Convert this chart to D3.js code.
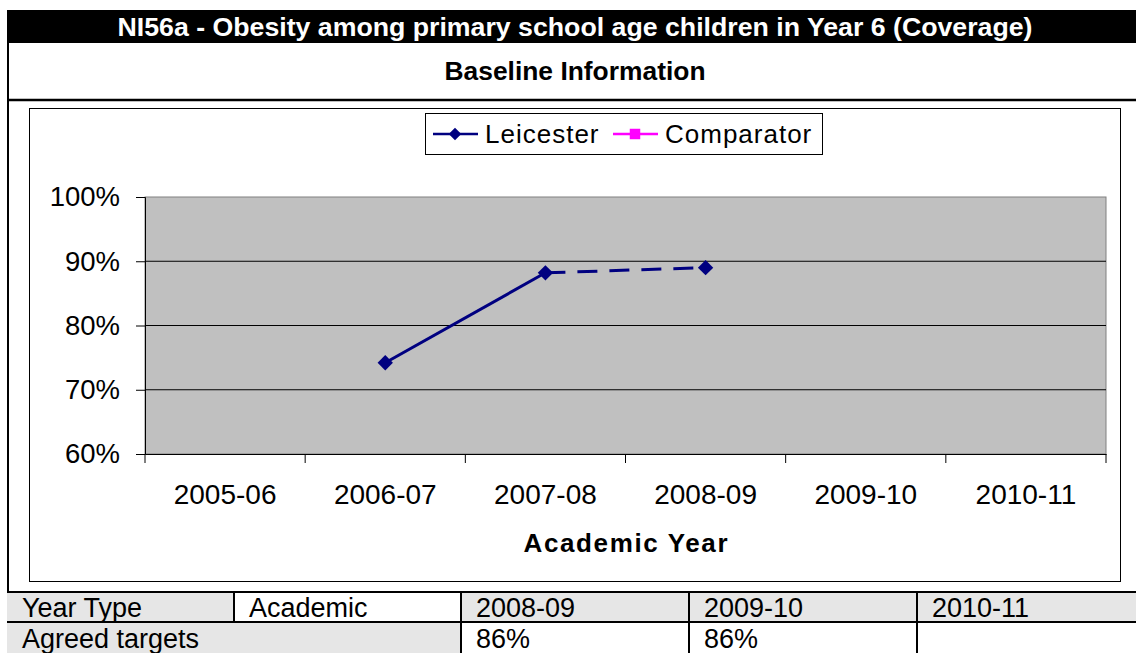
<!DOCTYPE html>
<html>
<head>
<meta charset="utf-8">
<script src="https://cdn.jsdelivr.net/npm/d3@7"></script>
<style>
  body { margin: 0; background: #fff; overflow: hidden; }
  svg { display: block; font-family: "Liberation Sans", Arial, sans-serif; }
</style>
</head>
<body>
<div id="container"></div>
<script>
/* DATA */
const years = ["2005-06", "2006-07", "2007-08", "2008-09", "2009-10", "2010-11"]
const leicester = [null, 0.742, 0.882, 0.890, null, null]
const comparator = [null, null, null, null, null, null]
// segment ending at this index is drawn dashed (provisional value)
const dashedTo = [false, false, false, true, false, false]
const yTicks = [0.6, 0.7, 0.8, 0.9, 1.0]
const tableRow1 = ["Year Type", "Academic", "2008-09", "2009-10", "2010-11"]
const tableRow2 = ["Agreed targets", "86%", "86%", ""]

/* CONSTANTS */
const width = 1136, height = 653
const plot = { left: 145, right: 1106, top: 197, bottom: 454 }
const navy = "#000080", magenta = "#ff00ff"

const svg = d3.select("#container").append("svg")
  .attr("width", width).attr("height", height)

// header bar
svg.append("rect").attr("x", 7).attr("y", 10).attr("width", width).attr("height", 33).attr("fill", "#000")
svg.append("text").attr("x", 575).attr("y", 36).attr("text-anchor", "middle")
  .attr("fill", "#fff").attr("font-weight", "bold").attr("font-size", 26.5)
  .attr("textLength", 915).attr("lengthAdjust", "spacingAndGlyphs")
  .text("NI56a - Obesity among primary school age children in Year 6 (Coverage)")
svg.append("text").attr("x", 575).attr("y", 80).attr("text-anchor", "middle")
  .attr("font-weight", "bold").attr("font-size", 26)
  .attr("textLength", 261).attr("lengthAdjust", "spacingAndGlyphs")
  .text("Baseline Information")

// outer lines
svg.append("line").attr("x1", 8).attr("x2", 8).attr("y1", 10).attr("y2", height)
  .attr("stroke", "#000").attr("stroke-width", 2)
svg.append("line").attr("x1", 7).attr("x2", width).attr("y1", 100).attr("y2", 100)
  .attr("stroke", "#000").attr("stroke-width", 2.5)

// chart frame
svg.append("rect").attr("x", 29.5).attr("y", 108.5).attr("width", 1091).attr("height", 473)
  .attr("fill", "#fff").attr("stroke", "#000").attr("stroke-width", 1)

/* SCALES */
const xScale = d3.scaleBand().domain(years).range([plot.left, plot.right])
const yScale = d3.scaleLinear().domain([0.6, 1.0]).range([plot.bottom, plot.top])

// plot area
svg.append("rect").attr("x", plot.left).attr("y", plot.top)
  .attr("width", plot.right - plot.left).attr("height", plot.bottom - plot.top)
  .attr("fill", "#c0c0c0").attr("stroke", "#808080")

// gridlines
svg.append("g").selectAll("line")
  .data(yTicks.slice(1, -1))
  .join("line")
  .attr("x1", plot.left).attr("x2", plot.right)
  .attr("y1", d => yScale(d)).attr("y2", d => yScale(d))
  .attr("stroke", "#000").attr("stroke-width", 1)

// y axis
const yAxis = d3.axisLeft(yScale).tickValues(yTicks).tickSize(9).tickPadding(16)
  .tickFormat(d3.format(".0%"))
const yg = svg.append("g").attr("transform", `translate(${plot.left},0)`).call(yAxis)
yg.selectAll("text").attr("font-size", 27.5).attr("font-family", "Liberation Sans, Arial").attr("fill", "#000")
yg.selectAll("line").attr("stroke", "#000")
yg.select(".domain").attr("stroke", "#000")

// x axis: labels centered, ticks at category boundaries
const xAxis = d3.axisBottom(xScale).tickSize(0).tickPadding(30)
const xg = svg.append("g").attr("transform", `translate(0,${plot.bottom})`).call(xAxis)
xg.selectAll("text").attr("font-size", 28).attr("font-family", "Liberation Sans, Arial").attr("fill", "#000")
xg.select(".domain").attr("stroke", "#000")
xg.selectAll(".edge").data(years.concat([null]))
  .join("line").attr("class", "edge")
  .attr("x1", d => d ? xScale(d) : plot.right).attr("x2", d => d ? xScale(d) : plot.right)
  .attr("y1", 0).attr("y2", 9).attr("stroke", "#000")

svg.append("text").attr("x", (plot.left + plot.right) / 2).attr("y", 552)
  .attr("text-anchor", "middle").attr("font-weight", "bold").attr("font-size", 26)
  .attr("textLength", 204).attr("lengthAdjust", "spacing")
  .text("Academic Year")

/* SERIES */
const pts = years.map((d, i) => ({ year: d, v: leicester[i], dashed: dashedTo[i] }))
  .filter(d => d.v != null)
const segs = d3.pairs(pts)
svg.append("g").selectAll("line")
  .data(segs)
  .join("line")
  .attr("x1", d => xScale(d[0].year) + xScale.bandwidth() / 2)
  .attr("y1", d => yScale(d[0].v))
  .attr("x2", d => xScale(d[1].year) + xScale.bandwidth() / 2)
  .attr("y2", d => yScale(d[1].v))
  .attr("stroke", navy).attr("stroke-width", 3)
  .attr("stroke-dasharray", d => d[1].dashed ? "20,12" : null)

const diamond = d3.symbol().type(d3.symbolDiamond2).size(150)
svg.append("g").selectAll("path")
  .data(pts)
  .join("path")
  .attr("d", diamond)
  .attr("transform", d => `translate(${xScale(d.year) + xScale.bandwidth() / 2},${yScale(d.v)})`)
  .attr("fill", navy)

/* LEGEND */
const lg = svg.append("g")
lg.append("rect").attr("x", 425.5).attr("y", 113.5).attr("width", 397).attr("height", 41)
  .attr("fill", "#fff").attr("stroke", "#000")
const legendItems = [
  { name: "Leicester", color: navy, sym: d3.symbolDiamond2, size: 100, x: 433 },
  { name: "Comparator", color: magenta, sym: d3.symbolSquare, size: 110, x: 613 }
]
const li = lg.selectAll("g").data(legendItems).join("g")
  .attr("transform", d => `translate(${d.x},134)`)
li.append("line").attr("x1", 0).attr("x2", 45).attr("stroke", d => d.color).attr("stroke-width", 2.5)
li.append("path").attr("d", d => d3.symbol().type(d.sym).size(d.size)())
  .attr("transform", "translate(22,0)").attr("fill", d => d.color)
li.append("text").attr("x", 52).attr("y", 9).attr("font-size", 26).attr("letter-spacing", 1)
  .text(d => d.name)

/* TABLE */
const cols = [7, 234, 461, 689, 917, width + 5]
const tb = svg.append("g")
const row1Fill = ["#e6e6e6", "#fff", "#e6e6e6", "#e6e6e6", "#e6e6e6"]
tb.selectAll(".r1").data(tableRow1).join("rect").attr("class", "r1")
  .attr("x", (d, i) => cols[i]).attr("y", 592).attr("width", (d, i) => cols[i + 1] - cols[i]).attr("height", 30)
  .attr("fill", (d, i) => row1Fill[i])
const r2cols = [cols[0], cols[2], cols[3], cols[4], cols[5]]
const row2Fill = ["#e6e6e6", "#fff", "#fff", "#fff"]
tb.selectAll(".r2").data(tableRow2).join("rect").attr("class", "r2")
  .attr("x", (d, i) => r2cols[i]).attr("y", 622).attr("width", (d, i) => r2cols[i + 1] - r2cols[i]).attr("height", 40)
  .attr("fill", (d, i) => row2Fill[i])
tb.selectAll(".t1").data(tableRow1).join("text").attr("class", "t1")
  .attr("x", (d, i) => cols[i] + 15).attr("y", 617).attr("font-size", 27).text(d => d)
tb.selectAll(".t2").data(tableRow2).join("text").attr("class", "t2")
  .attr("x", (d, i) => r2cols[i] + 15).attr("y", 648).attr("font-size", 27).text(d => d)
// grid lines
tb.append("line").attr("x1", 7).attr("x2", width).attr("y1", 592).attr("y2", 592).attr("stroke", "#000").attr("stroke-width", 2)
tb.append("line").attr("x1", 7).attr("x2", width).attr("y1", 622).attr("y2", 622).attr("stroke", "#000").attr("stroke-width", 2)
tb.append("line").attr("x1", cols[1]).attr("x2", cols[1]).attr("y1", 592).attr("y2", 622).attr("stroke", "#000").attr("stroke-width", 2)
tb.selectAll(".v").data([cols[2], cols[3], cols[4]]).join("line").attr("class", "v")
  .attr("x1", d => d).attr("x2", d => d).attr("y1", 592).attr("y2", height)
  .attr("stroke", "#000").attr("stroke-width", 2)
</script>
</body>
</html>
